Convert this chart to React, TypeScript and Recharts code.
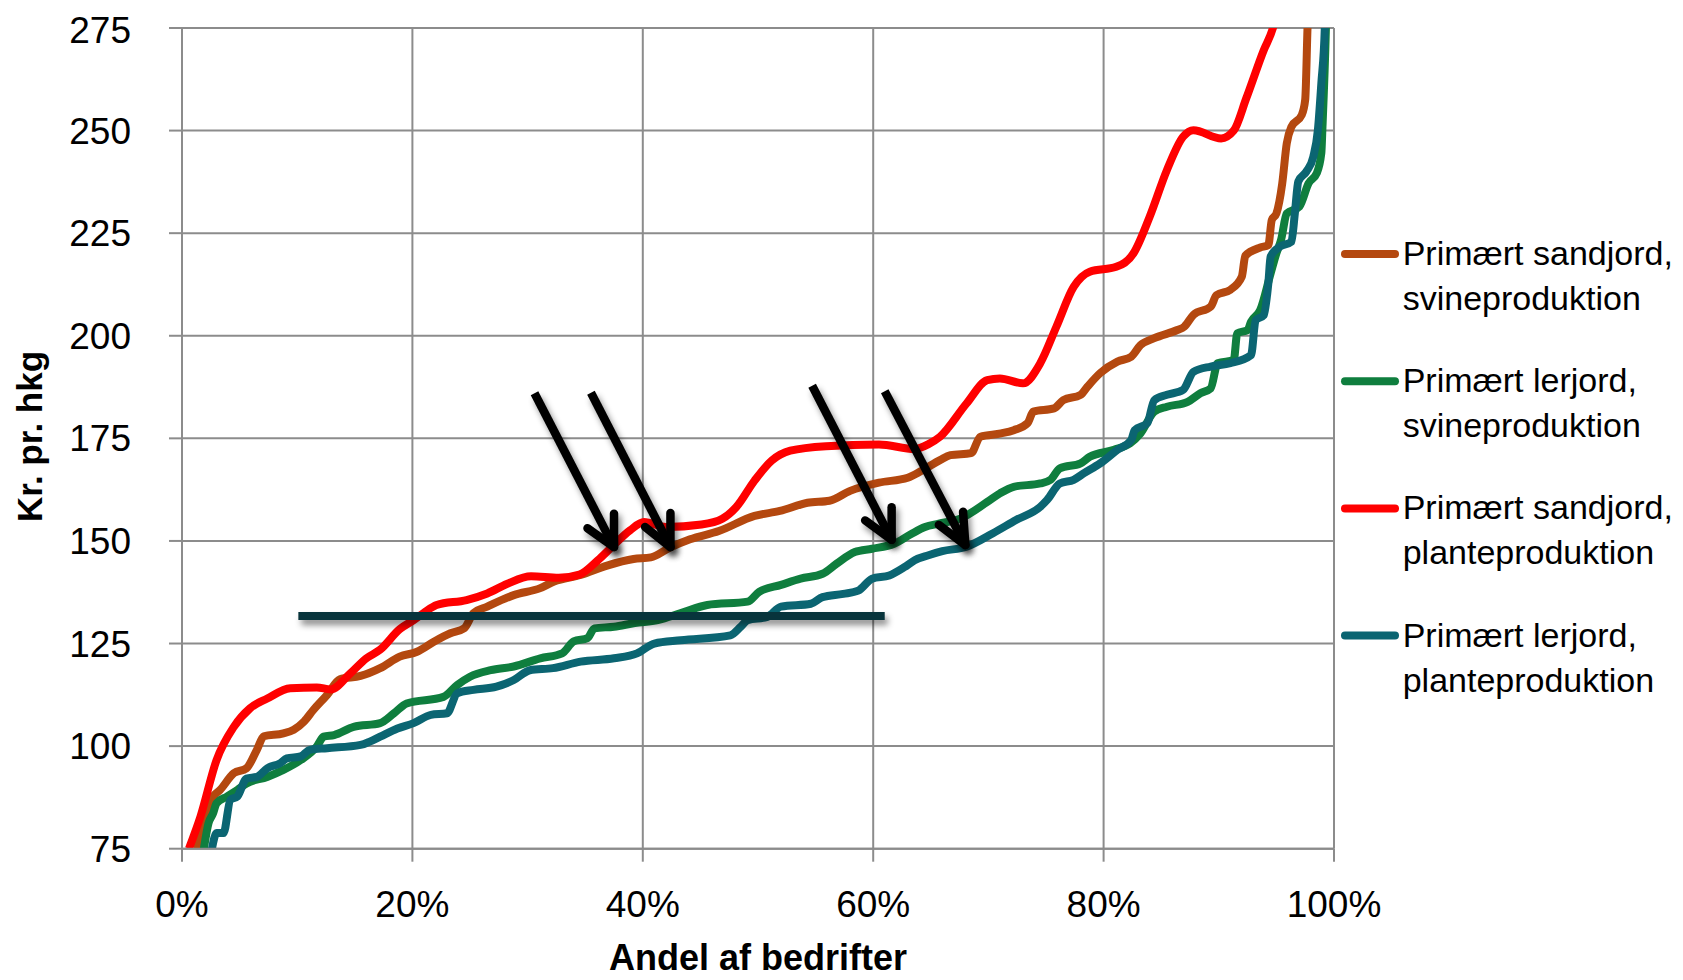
import React from 'react';
import { LineChart, Line, XAxis, YAxis, CartesianGrid, ReferenceLine } from 'recharts';

// ---- data (x = andel af bedrifter in %, y = kr. pr. hkg) ----
const sandSvineX = [1.3, 2.7, 3.3, 4.5, 5.6, 6.5, 7.1, 8.8, 9.7, 10.6, 11.4, 12.6, 13.7, 15.5, 17.2, 18.9, 20.4, 21.9, 23.3, 24.5, 25.3, 26.5, 28.8, 31.1, 32.3, 34.6, 36.9, 39.2, 40.7, 42.3, 44.1, 46.6, 49.7, 51.9, 54.3, 56.2, 58.0, 60.5, 63.0, 64.2, 65.8, 66.7, 68.5, 69.3, 71.1, 72.2, 73.4, 73.9, 75.7, 76.5, 78.0, 78.6, 79.7, 81.2, 82.4, 83.2, 84.4, 86.4, 87.0, 87.8, 89.3, 89.8, 91.0, 92.0, 92.3, 93.6, 94.3, 94.6, 95.0, 95.5, 95.9, 96.3, 97.2, 97.5, 97.7, 98.0];
const sandSvineY = [75, 87.7, 89.3, 93.4, 94.6, 99.1, 102.4, 103.1, 104.0, 106.0, 108.8, 112.5, 116.3, 117.1, 119.0, 121.8, 123.0, 125.5, 127.5, 128.7, 132.4, 134.0, 136.8, 138.5, 140.1, 141.7, 144.0, 145.6, 146.0, 148.3, 150.4, 152.4, 156.1, 157.3, 159.3, 159.8, 162.2, 164.2, 165.4, 167.1, 169.7, 170.9, 171.4, 175.4, 176.2, 177.0, 178.7, 181.5, 182.3, 184.3, 185.6, 187.6, 190.9, 193.7, 194.9, 197.7, 199.4, 201.4, 202.2, 205.1, 207.1, 209.9, 211.2, 214.4, 219.5, 221.5, 222.1, 228.2, 229.8, 237.0, 246.9, 250.9, 253.8, 257.5, 275, 300];

const lerSvineX = [1.9, 2.3, 2.7, 3.0, 3.9, 4.8, 5.6, 7.4, 8.8, 10.3, 11.7, 12.3, 13.2, 14.9, 17.2, 18.4, 19.5, 22.7, 23.9, 25.0, 26.8, 28.8, 31.1, 33.0, 34.0, 35.2, 35.8, 37.5, 39.3, 41.3, 43.3, 45.6, 49.1, 50.1, 52.0, 53.7, 55.6, 56.8, 58.4, 59.9, 61.8, 63.3, 64.5, 65.7, 67.6, 69.9, 71.0, 72.2, 74.5, 75.4, 76.2, 78.0, 78.8, 80.9, 82.3, 83.2, 84.4, 85.5, 87.3, 88.4, 89.3, 89.9, 91.3, 91.6, 92.5, 92.8, 93.6, 94.5, 95.0, 95.4, 95.9, 97.0, 97.8, 98.5, 98.9, 99.0, 99.3, 99.5];
const lerSvineY = [75, 81.2, 83.6, 86.1, 87.7, 89.3, 90.9, 92.5, 94.2, 96.6, 99.9, 102.3, 102.7, 104.7, 105.6, 108.0, 110.4, 112.0, 114.9, 116.9, 118.5, 119.4, 121.4, 122.6, 125.5, 126.3, 128.7, 129.1, 130.0, 130.7, 132.4, 134.4, 135.2, 137.6, 139.3, 140.8, 142.0, 144.4, 147.3, 148.1, 149.3, 151.7, 153.4, 154.2, 155.5, 159.5, 161.6, 163.2, 164.0, 164.9, 167.7, 168.9, 170.5, 172.2, 173.8, 176.2, 181.5, 182.7, 183.9, 186.0, 187.2, 193.3, 194.1, 200.6, 201.4, 203.4, 206.3, 215.2, 220.1, 223.3, 229.8, 231.5, 237.2, 239.6, 244.5, 250.9, 275, 300];

const sandPlanteX = [0.6, 1.6, 3.0, 4.5, 5.9, 7.4, 9.4, 11.7, 12.9, 14.6, 16.0, 17.2, 18.9, 20.1, 21.0, 22.1, 24.7, 26.5, 28.2, 30.3, 32.7, 34.5, 36.1, 37.3, 38.9, 40.1, 42.0, 45.1, 46.9, 48.1, 49.7, 51.2, 52.8, 55.9, 60.5, 63.6, 64.8, 65.8, 68.1, 69.9, 71.0, 73.0, 74.5, 75.9, 77.4, 78.8, 81.1, 82.6, 84.0, 85.5, 86.9, 87.8, 90.2, 91.3, 92.4, 93.9, 94.7, 95.5];
const sandPlanteY = [75, 82.8, 96.6, 104.7, 109.2, 111.6, 114.1, 114.3, 113.8, 117.7, 121.4, 123.5, 128.5, 130.7, 132.5, 134.4, 135.6, 137.2, 139.5, 141.4, 141.0, 141.8, 145.3, 148.5, 152.6, 154.6, 153.4, 154.0, 155.4, 158.2, 164.7, 169.6, 172.0, 173.1, 173.5, 172.4, 173.6, 175.4, 183.5, 189.2, 189.6, 188.4, 193.3, 202.2, 211.9, 215.6, 216.8, 220.1, 229.0, 240.4, 248.5, 250.1, 248.1, 250.0, 258.0, 269.6, 275, 285];

const lerPlanteX = [2.6, 3.0, 3.6, 4.2, 4.8, 5.6, 6.5, 7.4, 8.5, 9.1, 10.3, 11.1, 12.6, 15.5, 16.3, 17.2, 18.7, 20.1, 21.6, 23.0, 23.9, 25.3, 27.3, 28.8, 30.2, 32.2, 34.6, 37.5, 39.5, 41.0, 43.3, 47.6, 48.5, 49.1, 50.8, 52.0, 54.6, 55.6, 57.4, 58.7, 59.9, 61.4, 62.7, 63.6, 64.8, 66.0, 68.1, 70.4, 72.4, 74.5, 75.1, 76.2, 77.4, 78.3, 79.7, 81.2, 82.4, 82.7, 83.8, 84.4, 85.5, 86.9, 87.8, 89.3, 91.0, 92.8, 93.2, 93.9, 94.3, 94.5, 95.3, 96.3, 96.6, 96.9, 97.6, 98.2, 98.6, 98.9, 99.2, 99.4];
const lerPlanteY = [75, 78.8, 78.8, 86.9, 87.7, 92.1, 92.5, 94.6, 95.8, 97.0, 97.5, 99.1, 99.5, 100.3, 101.1, 102.3, 104.3, 105.6, 107.6, 108.0, 112.9, 113.7, 114.5, 116.1, 118.5, 119.0, 120.6, 121.4, 122.6, 125.0, 125.8, 127.0, 129.1, 130.7, 131.5, 134.0, 134.7, 136.3, 137.1, 137.9, 140.8, 141.6, 143.6, 145.3, 146.5, 147.5, 148.6, 151.9, 155.1, 158.3, 160.0, 164.0, 164.9, 166.5, 168.9, 172.2, 174.6, 177.0, 178.7, 184.3, 185.6, 186.8, 191.2, 192.5, 193.3, 195.3, 203.8, 205.0, 212.8, 219.3, 221.7, 222.9, 229.8, 237.6, 240.0, 243.6, 250.1, 261.5, 275, 300];

const xTicks = [0, 20, 40, 60, 80, 100];
const yTicks = [75, 100, 125, 150, 175, 200, 225, 250, 275];

const seriesNames = [
  ['Primært sandjord,', 'svineproduktion'],
  ['Primært lerjord,', 'svineproduktion'],
  ['Primært sandjord,', 'planteproduktion'],
  ['Primært lerjord,', 'planteproduktion'],
];
const seriesColors = ['#B4480F', '#0F7E3E', '#FF0000', '#0B6572'];

// annotation: horizontal bar [x1, x2, y]
const barLine = [10.1, 61.0, 131.7];
// arrows: [tailX, tailY, tipX, tipY, wingLX, wingLY, wingUX, wingUY]
const arrows = [
  [30.6, 186.0, 37.5, 148.5, 35.2, 153.1, 37.5, 156.6],
  [35.5, 186.1, 42.4, 148.5, 40.2, 153.4, 42.4, 156.8],
  [54.7, 187.8, 61.6, 150.3, 59.3, 155.0, 61.6, 158.2],
  [61.0, 186.5, 68.0, 149.0, 65.7, 153.9, 67.8, 157.1],
];

const toData = (xs: number[], ys: number[]) => xs.map((x, i) => ({ x, y: ys[i] }));
const seriesData = [
  toData(sandSvineX, sandSvineY),
  toData(lerSvineX, lerSvineY),
  toData(sandPlanteX, sandPlanteY),
  toData(lerPlanteX, lerPlanteY),
];

const FONT = '"Liberation Sans", Arial, sans-serif';
const GRID = '#8C8C8C';

const shadowLine = (color: string, w: number, cap: string) => (p: any) => (
  <line
    x1={p.x1}
    y1={p.y1}
    x2={p.x2}
    y2={p.y2}
    stroke={color}
    strokeWidth={w}
    strokeLinecap={cap as any}
    style={{ filter: 'drop-shadow(3px 5px 3px rgba(0,0,0,0.45))' }}
  />
);

export default function App() {
  const W = 1675;
  const H = 972;
  const segs: any[] = [];
  arrows.forEach((a, i) => {
    segs.push({ k: `s${i}`, p: [{ x: a[0], y: a[1] }, { x: a[2], y: a[3] }], cap: 'butt' });
    segs.push({ k: `l${i}`, p: [{ x: a[2], y: a[3] }, { x: a[4], y: a[5] }], cap: 'round' });
    segs.push({ k: `u${i}`, p: [{ x: a[2], y: a[3] }, { x: a[6], y: a[7] }], cap: 'round' });
  });
  const legendTop = 246;
  const legendStep = 127.2;
  return (
    <div style={{ position: 'relative', width: W, height: H }}>
      <LineChart width={W} height={H} margin={{ top: 20, right: 349, bottom: 31.3, left: 0 }}>
        <CartesianGrid stroke={GRID} strokeWidth={2} />
        <XAxis
          type="number"
          dataKey="x"
          domain={[0, 100]}
          ticks={xTicks}
          allowDataOverflow
          tickFormatter={(v: number) => `${v}%`}
          height={100}
          tickSize={13}
          tickMargin={29}
          stroke={GRID}
          strokeWidth={2}
          tick={{ fill: '#000', fontSize: 37, fontFamily: FONT }}
        />
        <YAxis
          type="number"
          domain={[75, 275]}
          ticks={yTicks}
          allowDataOverflow
          width={174}
          tickSize={13}
          tickMargin={38}
          stroke={GRID}
          strokeWidth={2}
          tick={{ fill: '#000', fontSize: 37, fontFamily: FONT }}
        />
        {seriesData.map((d, i) => (
          <Line
            key={i}
            data={d}
            dataKey="y"
            type="monotone"
            stroke={seriesColors[i]}
            strokeWidth={8}
            strokeLinejoin="round"
            dot={false}
            activeDot={false}
            isAnimationActive={false}
          />
        ))}
        <ReferenceLine
          segment={[{ x: barLine[0], y: barLine[2] }, { x: barLine[1], y: barLine[2] }]}
          ifOverflow="visible"
          shape={shadowLine('#08343C', 8, 'butt')}
        />
        {segs.map((s) => (
          <ReferenceLine key={s.k} segment={s.p} ifOverflow="visible" shape={shadowLine('#000', 8.5, s.cap)} />
        ))}
      </LineChart>
      <svg width={W} height={H} style={{ position: 'absolute', left: 0, top: 0, pointerEvents: 'none' }}>
        <text
          x={33.7}
          y={428.5}
          transform="rotate(-90 33.7 428.5)"
          textAnchor="middle"
          fontFamily={FONT}
          fontWeight="bold"
          fontSize={35}
          fill="#000"
        >
          Kr. pr. hkg
        </text>
        <text x={750} y={962} textAnchor="middle" fontFamily={FONT} fontWeight="bold" fontSize={36} fill="#000">
          Andel af bedrifter
        </text>
        {seriesNames.map((n, i) => {
          const cy = legendTop + i * legendStep;
          return (
            <g key={i}>
              <line x1={1337} y1={cy} x2={1387} y2={cy} stroke={seriesColors[i]} strokeWidth={8} strokeLinecap="round" />
              <text x={1394.7} y={cy + 11} fontFamily={FONT} fontSize={34} fill="#000">
                {n[0]}
              </text>
              <text x={1394.7} y={cy + 56} fontFamily={FONT} fontSize={34} fill="#000">
                {n[1]}
              </text>
            </g>
          );
        })}
      </svg>
    </div>
  );
}
